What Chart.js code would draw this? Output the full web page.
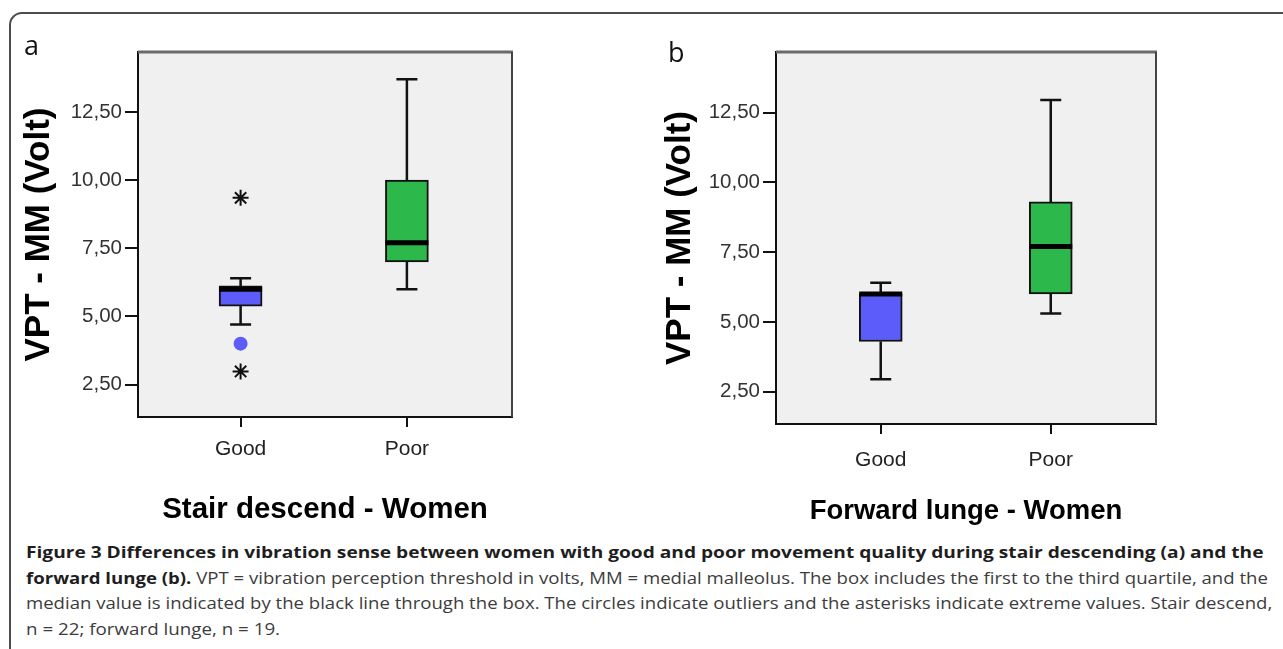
<!DOCTYPE html>
<html><head><meta charset="utf-8">
<script src="https://cdn.jsdelivr.net/npm/chart.js@4/dist/chart.umd.min.js"></script>
<style>
html,body{margin:0;padding:0;background:#fff;width:1283px;height:649px;overflow:hidden;position:relative;font-family:'Open Sans',sans-serif;}
#frame{position:absolute;left:9px;top:12px;width:1400px;height:800px;border:2px solid #4d4d4d;border-radius:13px;box-sizing:border-box;}
canvas{position:absolute;top:0;}
#ca{left:0;width:640px;height:530px;}
#cb{left:640px;width:643px;height:530px;}
.pl{position:absolute;font-family:'Open Sans',sans-serif;font-size:27px;color:#111;line-height:1;}
.cap{position:absolute;left:26px;white-space:nowrap;font-size:15.5px;line-height:20px;color:#3c3c3c;transform-origin:0 50%;}
.cap b{color:#1e1e1e;font-weight:700;}
</style></head><body>
<div id="frame"></div>
<canvas id="ca" width="640" height="530"></canvas>
<canvas id="cb" width="643" height="530"></canvas>
<div class="pl" style="left:24px;top:31px">a</div>
<div class="pl" style="left:668px;top:38px">b</div>
<div class="cap" id="l1" style="top:542px"><b>Figure 3 Differences in vibration sense between women with good and poor movement quality during stair descending (a) and the</b></div>
<div class="cap" id="l2" style="top:568px"><b>forward lunge (b).</b> VPT = vibration perception threshold in volts, MM = medial malleolus. The box includes the first to the third quartile, and the</div>
<div class="cap" id="l3" style="top:593px">median value is indicated by the black line through the box. The circles indicate outliers and the asterisks indicate extreme values. Stair descend,</div>
<div class="cap" id="l4" style="top:619px">n = 22; forward lunge, n = 19.</div>
<script>
// ---- data ----
const categories = ['Good', 'Poor'];
const yTickValues = [2.5, 5, 7.5, 10, 12.5];
const yTickLabels = ['2,50', '5,00', '7,50', '10,00', '12,50'];

const stairMin    = [4.70, 6.00];
const stairQ1     = [5.38, 7.00];
const stairMedian = [6.00, 7.70];
const stairQ3     = [6.12, 10.00];
const stairMax    = [6.40, 13.70];
const stairOutlierCat = [0];
const stairOutlierVal = [4.00];
const stairExtremeCat = [0, 0];
const stairExtremeVal = [9.35, 2.98];

const lungeMin    = [2.95, 5.30];
const lungeQ1     = [4.30, 6.00];
const lungeMedian = [6.00, 7.70];
const lungeQ3     = [6.02, 9.30];
const lungeMax    = [6.40, 12.95];
const lungeOutlierCat = [];
const lungeOutlierVal = [];
const lungeExtremeCat = [];
const lungeExtremeVal = [];

const boxColors = ['#5c5cfb', '#2db84b'];

Chart.defaults.font.family = "'Liberation Sans', Arial, sans-serif";

const plotFrame = {
  id: 'plotFrame',
  beforeDraw(chart) {
    const {ctx, chartArea: a} = chart;
    ctx.save();
    ctx.fillStyle = '#f0f0f0';
    ctx.fillRect(a.left, a.top, a.right - a.left, a.bottom - a.top);
    ctx.restore();
  },
  beforeDatasetsDraw(chart) {
    const {ctx, chartArea: a} = chart;
    ctx.save();
    ctx.strokeStyle = '#6a6a6a';
    ctx.lineWidth = 3;
    ctx.beginPath(); ctx.moveTo(a.left, a.top); ctx.lineTo(a.right + 1, a.top); ctx.stroke();
    ctx.strokeStyle = '#444';
    ctx.lineWidth = 2;
    ctx.beginPath(); ctx.moveTo(a.right, a.top); ctx.lineTo(a.right, a.bottom); ctx.stroke();
    ctx.restore();
  }
};

function makeChart(id, p) {
  const pxPerUnit = p.plotWidth / (p.xMax - p.xMin);
  const capHalf = 10.5 / pxPerUnit;
  const boxHalf = 21.5 / pxPerUnit;
  const whiskers = [];
  const medians = [];
  categories.forEach((c, i) => {
    whiskers.push({x: i, y: p.q3[i]}, {x: i, y: p.max[i]}, {x: i, y: null});
    whiskers.push({x: i, y: p.q1[i]}, {x: i, y: p.min[i]}, {x: i, y: null});
    whiskers.push({x: i - capHalf, y: p.max[i]}, {x: i + capHalf, y: p.max[i]}, {x: i, y: null});
    whiskers.push({x: i - capHalf, y: p.min[i]}, {x: i + capHalf, y: p.min[i]}, {x: i, y: null});
    medians.push({x: i - boxHalf, y: p.median[i]}, {x: i + boxHalf, y: p.median[i]}, {x: i, y: null});
  });
  return new Chart(document.getElementById(id), {
    type: 'bar',
    data: {
      datasets: [
        {type: 'bar', data: categories.map((c, i) => ({x: i, y: [p.q1[i], p.q3[i]]})),
         backgroundColor: boxColors, borderColor: '#111', borderWidth: 2, borderSkipped: false,
         barThickness: 43, order: 3},
        {type: 'line', data: whiskers, borderColor: '#111', borderWidth: 2.5, pointRadius: 0,
         spanGaps: false, fill: false, order: 4, borderCapStyle: 'butt'},
        {type: 'line', data: medians, borderColor: '#000', borderWidth: 5, pointRadius: 0,
         spanGaps: false, fill: false, order: 1, borderCapStyle: 'butt'},
        {type: 'scatter', data: p.outCat.map((c, i) => ({x: c, y: p.outVal[i]})),
         pointStyle: 'circle', pointRadius: 7, backgroundColor: '#5c5cfb', borderWidth: 0, order: 0},
        {type: 'scatter', data: p.extCat.map((c, i) => ({x: c, y: p.extVal[i]})),
         pointStyle: 'star', pointRadius: 8, borderColor: '#111', borderWidth: 2, order: 0}
      ]
    },
    options: {
      responsive: false, animation: false, events: [],
      layout: {padding: {left: 0, top: 52, right: p.padRight, bottom: 0}},
      plugins: {legend: {display: false}, tooltip: {enabled: false}},
      scales: {
        x: {
          type: 'linear', min: p.xMin, max: p.xMax, offset: false,
          afterFit: s => { s.height = p.xAxisHeight; },
          afterBuildTicks: s => { s.ticks = categories.map((c, i) => ({value: i})); },
          ticks: {callback: (v, i) => categories[i], font: {size: 21}, color: '#222',
                  padding: p.xTickPad, autoSkip: false, maxRotation: 0},
          grid: {drawOnChartArea: false, drawTicks: true, tickLength: 10, color: '#111', lineWidth: 2, offset: false},
          border: {display: true, color: '#111', width: 2},
          title: {display: true, text: p.xTitle, color: '#000',
                  font: {size: p.xTitleSize, weight: 'bold'}, padding: {top: 0, bottom: 2}}
        },
        y: {
          type: 'linear', min: p.yMin, max: p.yMax,
          afterFit: s => { s.width = p.yAxisWidth; },
          afterBuildTicks: s => { s.ticks = yTickValues.map(v => ({value: v})); },
          ticks: {callback: (v, i) => yTickLabels[i], font: {size: 20.5}, color: '#333', padding: 3},
          grid: {drawOnChartArea: false, drawTicks: true, tickLength: 13, color: '#111', lineWidth: 2},
          border: {display: true, color: '#111', width: 2},
          title: {display: true, text: 'VPT - MM (Volt)', color: '#000',
                  font: {size: 35, weight: 'bold'}, padding: {top: p.yTitlePad, bottom: 0}}
        }
      }
    },
    plugins: [plotFrame]
  });
}

makeChart('ca', {
  min: stairMin, q1: stairQ1, median: stairMedian, q3: stairQ3, max: stairMax,
  outCat: stairOutlierCat, outVal: stairOutlierVal, extCat: stairExtremeCat, extVal: stairExtremeVal,
  xMin: -0.617, xMax: 1.632, yMin: 1.31, yMax: 14.7,
  plotWidth: 374, padRight: 128, yAxisWidth: 138, xAxisHeight: 113, xTickPad: 10,
  xTitle: 'Stair descend - Women', xTitleSize: 29.5, yTitlePad: 18
});
makeChart('cb', {
  min: lungeMin, q1: lungeQ1, median: lungeMedian, q3: lungeQ3, max: lungeMax,
  outCat: lungeOutlierCat, outVal: lungeOutlierVal, extCat: lungeExtremeCat, extVal: lungeExtremeVal,
  xMin: -0.616, xMax: 1.619, yMin: 1.344, yMax: 14.67,
  plotWidth: 380, padRight: 127, yAxisWidth: 136, xAxisHeight: 106, xTickPad: 14,
  xTitle: 'Forward lunge - Women', xTitleSize: 27.5, yTitlePad: 19
});

function fitCaption() {
  const targets = {l1: 1238, l2: 1242, l3: 1246};
  const scales = [];
  Object.keys(targets).forEach(id => {
    const el = document.getElementById(id);
    el.style.transform = 'none';
    const w = el.scrollWidth;
    const s = targets[id] / w;
    scales.push(s);
    el.style.transform = 'scaleX(' + s + ')';
  });
  const avg = scales.reduce((a, b) => a + b, 0) / scales.length;
  document.getElementById('l4').style.transform = 'scaleX(' + avg + ')';
}
fitCaption();
if (document.fonts && document.fonts.ready) document.fonts.ready.then(fitCaption);
</script>
</body></html>
